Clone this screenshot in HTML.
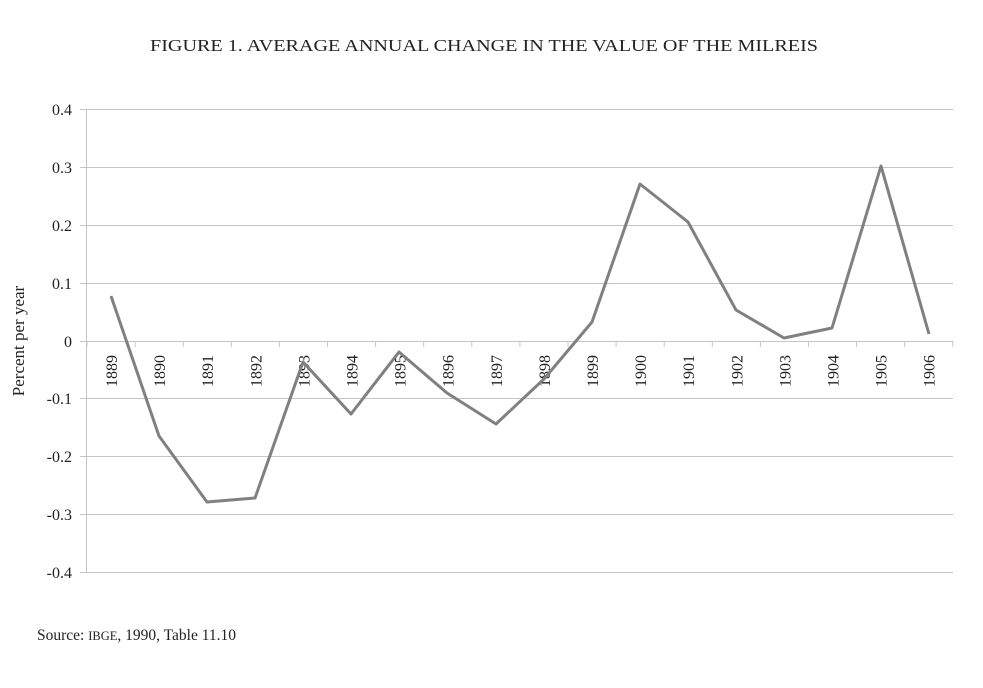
<!DOCTYPE html>
<html><head><meta charset="utf-8"><style>
body{margin:0;background:#fff;}
svg text{font-family:"Liberation Serif",serif;fill:#222;}
</style></head><body>
<svg width="983" height="683" viewBox="0 0 983 683" xmlns="http://www.w3.org/2000/svg">
<text x="150" y="51" font-size="17" textLength="668" lengthAdjust="spacingAndGlyphs">FIGURE 1. AVERAGE ANNUAL CHANGE IN THE VALUE OF THE MILREIS</text>
<g stroke="#c4c4c4" stroke-width="1">
<line x1="80" y1="109.5" x2="953" y2="109.5"/>
<line x1="80" y1="167.5" x2="953" y2="167.5"/>
<line x1="80" y1="225.5" x2="953" y2="225.5"/>
<line x1="80" y1="283.5" x2="953" y2="283.5"/>
<line x1="80" y1="341.5" x2="953" y2="341.5"/>
<line x1="80" y1="398.5" x2="953" y2="398.5"/>
<line x1="80" y1="456.5" x2="953" y2="456.5"/>
<line x1="80" y1="514.5" x2="953" y2="514.5"/>
<line x1="80" y1="572.5" x2="953" y2="572.5"/>
<line x1="86.5" y1="109" x2="86.5" y2="572"/>
</g>
<g stroke="#c4c4c4" stroke-width="1" id="ticks"></g>
<g font-size="16" text-anchor="end">
<text x="72" y="115">0.4</text>
<text x="72" y="173">0.3</text>
<text x="72" y="231">0.2</text>
<text x="72" y="289">0.1</text>
<text x="72" y="347">0</text>
<text x="72" y="404">-0.1</text>
<text x="72" y="462">-0.2</text>
<text x="72" y="520">-0.3</text>
<text x="72" y="578">-0.4</text>
</g>
<text transform="translate(24,341) rotate(-90)" text-anchor="middle" font-size="17">Percent per year</text>
<g id="labels" font-size="16" text-anchor="middle"></g>
<polyline fill="none" stroke="#808080" stroke-width="3" stroke-linejoin="round" points="111,296 159,436 207,502 255,498 303,362 351,414 399,352 447,393 496,424 544,379 592,322 640,184 688,222 736,310 784,338 832,328 881,166 929,334"/>
<text x="37" y="640" font-size="15.5">Source: <tspan font-size="12.5">IBGE</tspan>, 1990, Table 11.10</text>
</svg>
<script>
var t=document.getElementById('ticks'),l=document.getElementById('labels'),ns="http://www.w3.org/2000/svg";
for(var i=0;i<=18;i++){var x=87+i*48.1;var ln=document.createElementNS(ns,'line');ln.setAttribute('x1',x);ln.setAttribute('x2',x);ln.setAttribute('y1',341);ln.setAttribute('y2',347);t.appendChild(ln);}
for(var i=0;i<18;i++){var x=111+i*48.1;var tx=document.createElementNS(ns,'text');tx.setAttribute('transform','translate('+(x+6)+',371) rotate(-90)');tx.textContent=1889+i;l.appendChild(tx);}
</script>
</body></html>
